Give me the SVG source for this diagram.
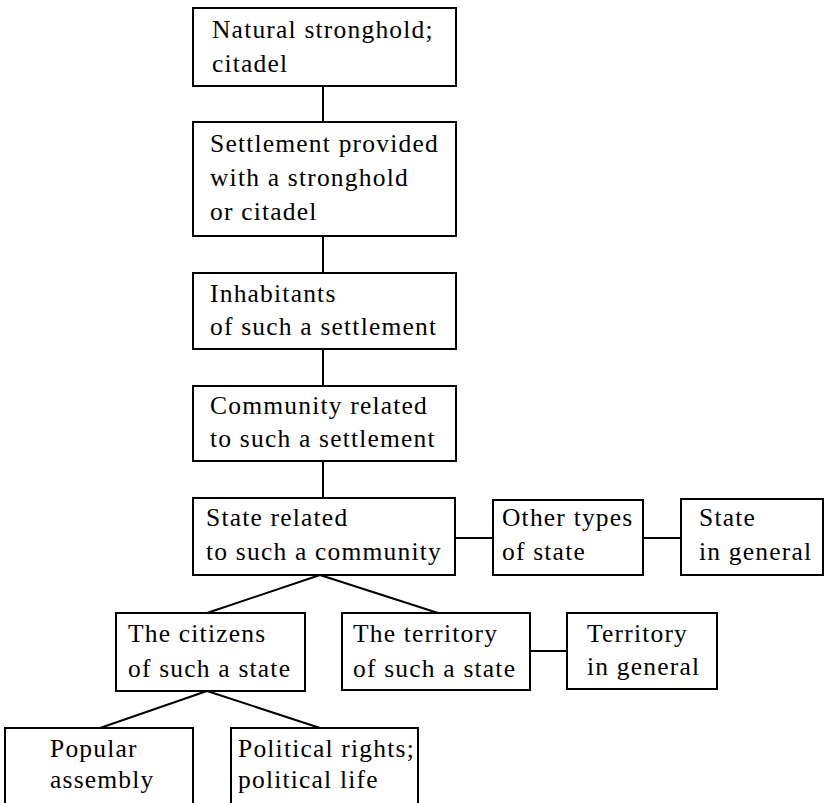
<svg xmlns="http://www.w3.org/2000/svg" width="825" height="803" viewBox="0 0 825 803">
<style>
rect{fill:#fff;stroke:#000;stroke-width:2}
text{font-family:"Liberation Serif","Times New Roman",serif;font-size:25.5px;letter-spacing:1.2px;fill:#000}
#connectors line{stroke:#000;stroke-width:2}
</style>
<rect x="0" y="0" width="825" height="803" style="stroke:none"/>
<g id="connectors">
<line x1="323" y1="86" x2="323" y2="122"/>
<line x1="323" y1="236" x2="323" y2="273"/>
<line x1="323" y1="349" x2="323" y2="386"/>
<line x1="323" y1="461" x2="323" y2="498"/>
<line x1="455" y1="538" x2="493" y2="538"/>
<line x1="643" y1="538" x2="681" y2="538"/>
<line x1="320" y1="575" x2="207" y2="613"/>
<line x1="320" y1="575" x2="438" y2="613"/>
<line x1="530" y1="651" x2="567" y2="651"/>
<line x1="207" y1="691" x2="100" y2="728"/>
<line x1="207" y1="691" x2="320" y2="728"/>
</g>
<g id="n1"><rect x="193" y="8" width="263" height="78"/><text x="212" y="38">Natural stronghold;</text><text x="212" y="72">citadel</text></g>
<g id="n2"><rect x="193" y="122" width="263" height="114"/><text x="210" y="152">Settlement provided</text><text x="210" y="186">with a stronghold</text><text x="210" y="220">or citadel</text></g>
<g id="n3"><rect x="193" y="273" width="263" height="76"/><text x="210" y="302">Inhabitants</text><text x="210" y="335">of such a settlement</text></g>
<g id="n4"><rect x="193" y="386" width="263" height="75"/><text x="210" y="414">Community related</text><text x="210" y="447">to such a settlement</text></g>
<g id="n5"><rect x="193" y="498" width="262" height="77"/><text x="206" y="526">State related</text><text x="206" y="560">to such a community</text></g>
<g id="n6"><rect x="493" y="500" width="150" height="75"/><text x="502" y="526">Other types</text><text x="502" y="560">of state</text></g>
<g id="n7"><rect x="681" y="499" width="142" height="76"/><text x="699" y="526">State</text><text x="699" y="560">in general</text></g>
<g id="n8"><rect x="116" y="613" width="189" height="78"/><text x="128" y="642">The citizens</text><text x="128" y="677">of such a state</text></g>
<g id="n9"><rect x="342" y="613" width="188" height="77"/><text x="353" y="642">The territory</text><text x="353" y="677">of such a state</text></g>
<g id="n10"><rect x="567" y="613" width="150" height="76"/><text x="587" y="642">Territory</text><text x="587" y="675">in general</text></g>
<g id="n11"><rect x="5" y="728" width="188" height="80"/><text x="50" y="757">Popular</text><text x="50" y="788">assembly</text></g>
<g id="n12"><rect x="231" y="728" width="187" height="80"/><text x="238" y="757">Political rights;</text><text x="238" y="788">political life</text></g>
</svg>
